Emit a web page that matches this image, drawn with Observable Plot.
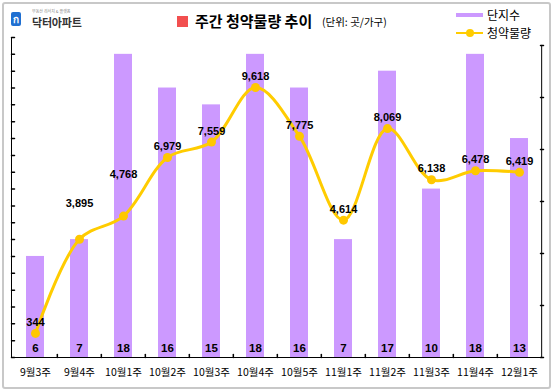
<!DOCTYPE html>
<html><head><meta charset="utf-8">
<script src="https://cdn.jsdelivr.net/npm/d3@7"></script>
<script src="https://cdn.jsdelivr.net/npm/@observablehq/plot@0.6"></script>
<style>
body{margin:0;background:#fff;}
#wrap{position:relative;width:553px;height:392px;overflow:hidden;font-family:"Noto Sans CJK KR","Noto Sans",sans-serif;}
#chart{position:absolute;left:0;top:0;}
#border{position:absolute;left:2px;top:2px;width:545px;height:383px;border:2px solid #c8c8c8;border-radius:3px;pointer-events:none;}
.abs{position:absolute;white-space:nowrap;line-height:1;}
</style></head><body>
<div id="wrap">
  <div id="chart"></div>
  <div id="border"></div>
  <!-- logo -->
  <div class="abs" style="left:11px;top:12px;width:10px;height:14px;background:#1f6fd1;border-radius:2px;color:#fff;font-size:10px;font-weight:bold;text-align:center;line-height:14px;">ก</div>
  <div class="abs" style="left:32px;top:9px;font-size:4px;line-height:4px;color:#888;">부동산 리서치 &amp; 플랫폼</div>
  <div class="abs" style="left:32px;top:17px;font-size:11px;line-height:11px;font-weight:bold;color:#333;letter-spacing:-0.2px;">닥터아파트</div>
  <!-- title -->
  <div class="abs" style="left:177px;top:16px;width:11px;height:11px;background:#f24f4f;"></div>
  <div class="abs" style="left:195px;top:13px;font-size:15px;font-weight:bold;color:#000;">주간 청약물량 추이</div>
  <div class="abs" style="left:322px;top:17px;font-size:10.5px;color:#000;">(단위: 곳/가구)</div>
  <!-- legend -->
  <div class="abs" style="left:456px;top:13px;width:27px;height:4px;background:#cc99ff;"></div>
  <div class="abs" style="left:487px;top:9px;font-size:12px;color:#000;">단지수</div>
  <div class="abs" style="left:456px;top:32px;width:27px;height:2px;background:#ffcc00;"></div>
  <div class="abs" style="left:466px;top:29px;width:8px;height:8px;border-radius:50%;background:#ffcc00;"></div>
  <div class="abs" style="left:487px;top:27px;font-size:12px;color:#000;">청약물량</div>
</div>
<script>
// data
const weeks = ["9월3주","9월4주","10월1주","10월2주","10월3주","10월4주","10월5주","11월1주","11월2주","11월3주","11월4주","12월1주"];
const complexes = [6,7,18,16,15,18,16,7,17,10,18,13];
const supply = [344,3895,4768,6979,7559,9618,7775,4614,8069,6138,6478,6419];
const labelLift = [11,36,42,11,11,11,11,11,11,11,11,11]; // label offset above each point (px)
const leftTicks = d3.range(0, 20);
const rightDomain = [-566, 11206];

// layout
const W = 553, H = 392, mL = 11, mR = 10, mT = 37, mB = 35;
const step = (W - mL - mR) / weeks.length;
const yMax = 19;
const rightTop = 18.53; // right axis top in left-axis units
const toLeft = d3.scaleLinear().domain(rightDomain).range([0, rightTop]);
const rightTicks = d3.range(7).map(k => rightDomain[0] + k * (rightDomain[1] - rightDomain[0]) / 6);

const rows = weeks.map((w, i) => ({week: w, n: complexes[i], v: supply[i], u: toLeft(supply[i]), lift: labelLift[i]}));
const tickShape = {draw(ctx, l) { ctx.moveTo(0, 0); ctx.lineTo(0, -l); }};
const numFont = '"Liberation Sans", Arial, sans-serif';

const chart = Plot.plot({
  width: W, height: H,
  marginLeft: mL, marginRight: mR, marginTop: mT, marginBottom: mB,
  style: {fontFamily: '"Noto Sans CJK KR", sans-serif', background: "transparent", overflow: "visible"},
  x: {domain: weeks, paddingInner: 0.59, paddingOuter: 0.295, label: null},
  y: {domain: [0, yMax], axis: null},
  marks: [
    Plot.barY(rows, {x: "week", y: "n", fill: "#cc99ff"}),
    Plot.frame({anchor: "left", stroke: "#000"}),
    Plot.frame({anchor: "bottom", stroke: "#000"}),
    Plot.ruleX([weeks[weeks.length - 1]], {y1: 0, y2: rightTop, dx: step / 2, stroke: "#000"}),
    Plot.vector(leftTicks, {y: d => d, frameAnchor: "left", rotate: 90, length: 3, anchor: "start", shape: tickShape, stroke: "#000"}),
    Plot.vector(rightTicks, {y: d => toLeft(d), frameAnchor: "right", rotate: -90, length: 3, anchor: "start", shape: tickShape, stroke: "#000"}),
    Plot.vector(weeks.slice(1), {x: d => d, frameAnchor: "bottom", dx: -step / 2, rotate: 0, length: 3, anchor: "start", shape: tickShape, stroke: "#000"}),
    Plot.axisX({tickSize: 0, tickPadding: 11, fontSize: 10.5, fill: "#000"}),
    Plot.line(rows, {x: "week", y: "u", curve: "catmull-rom", stroke: "#ffcc00", strokeWidth: 3}),
    Plot.dot(rows, {x: "week", y: "u", r: 4.5, fill: "#ffc800"}),
    ...rows.map(r => Plot.text([r], {x: "week", y: "u", text: d => d3.format(",")(d.v), dy: -r.lift, fontSize: 11, fontWeight: "bold", fontFamily: numFont, fill: "#000"})),
    Plot.text(rows, {x: "week", y: () => 0, text: d => String(d.n), dy: -9, fontSize: 11.5, fontWeight: "bold", fontFamily: numFont, fill: "#000"})
  ]
});
document.getElementById("chart").appendChild(chart);
</script>
</body></html>
